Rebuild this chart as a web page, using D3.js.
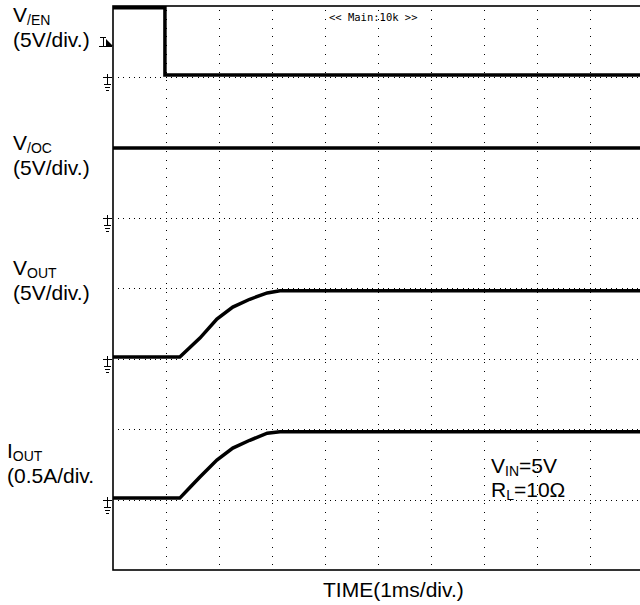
<!DOCTYPE html>
<meta charset="utf-8">
<style>
body{margin:0;background:#fff;}
svg text{font-family:"Liberation Sans", Arial, sans-serif; fill:#000;}
.grid line{stroke:#000; stroke-width:1; shape-rendering:crispEdges;}
.trace{fill:none; stroke:#000; stroke-width:3.5; stroke-linejoin:miter;}
</style>
<svg id="scope" width="640" height="605"></svg>
<script src="https://d3js.org/d3.v7.min.js"></script>
<script>
// time axis: 10 divisions, 1 ms/div
const gridTimes = [1,2,3,4,5,6,7,8,9]
const gridDivs = [1,2,3,4,5,6,7]

// /EN (V)
const enTime = [0, 0.98, 0.98, 10]
const enVolt = [4.88, 4.88, 0.1, 0.1]
// /OC (V)
const ocTime = [0, 10]
const ocVolt = [4.93, 4.93]
// VOUT (V) and IOUT (A), same time base
const rampTime = [0, 1.26, 1.45, 1.64, 1.96, 2.26, 2.58, 2.91, 3.15, 10]
const outVolt = [0.1, 0.1, 0.78, 1.45, 2.8, 3.65, 4.2, 4.65, 4.8, 4.8]
const outAmp = [0.01, 0.01, 0.085, 0.16, 0.28, 0.365, 0.42, 0.47, 0.48, 0.48]

// ground position (in divisions from bottom) and units per division
const channels = [
  {time: enTime, vals: enVolt, gnd: 7, perDiv: 5},
  {time: ocTime, vals: ocVolt, gnd: 5, perDiv: 5},
  {time: rampTime, vals: outVolt, gnd: 3, perDiv: 5},
  {time: rampTime, vals: outAmp, gnd: 1, perDiv: 0.5}
]

let svg = d3.select('#scope')
let x = d3.scaleLinear().domain([0,10]).range([113,643])
let yDiv = d3.scaleLinear().domain([0,8]).range([570,6])

// dotted graticule
let grid = svg.append('g').attr('class','grid')
grid.selectAll('line.v').data(gridTimes).enter().append('line')
  .attr('x1', d => x(d)+0.5).attr('x2', d => x(d)+0.5)
  .attr('y1', yDiv(8)+4).attr('y2', yDiv(0))
  .attr('stroke-dasharray', '1,7.8')
grid.selectAll('line.h').data(gridDivs).enter().append('line')
  .attr('y1', d => Math.round(yDiv(d))+0.5).attr('y2', d => Math.round(yDiv(d))+0.5)
  .attr('x1', x(0)+5).attr('x2', x(10))
  .attr('stroke-dasharray', '1,4.3')

// traces
channels.forEach(ch => {
  let pts = ch.time.map((t,i) => [t, ch.vals[i]])
  let line = d3.line()
    .x(d => x(d[0]))
    .y(d => yDiv(ch.gnd + d[1]/ch.perDiv))
  svg.append('path').attr('class','trace').attr('d', line(pts))
})

// frame
svg.append('rect')
  .attr('x', x(0)).attr('y', yDiv(8))
  .attr('width', x(10)-x(0)).attr('height', yDiv(0)-yDiv(8))
  .attr('fill','none').attr('stroke','#000').attr('stroke-width',1.6)

// ground markers
channels.forEach(ch => {
  let gy = Math.round(yDiv(ch.gnd))
  let g = svg.append('g').attr('stroke','#000').attr('stroke-width',1).attr('shape-rendering','crispEdges')
  g.append('line').attr('x1',103).attr('x2',112).attr('y1',gy+0.5).attr('y2',gy+0.5)
  g.append('line').attr('x1',107.5).attr('x2',107.5).attr('y1',gy-3).attr('y2',gy+7)
  g.append('line').attr('x1',104).attr('x2',111).attr('y1',gy+7.5).attr('y2',gy+7.5)
  g.append('line').attr('x1',105).attr('x2',110).attr('y1',gy+10.5).attr('y2',gy+10.5)
  g.append('line').attr('x1',106).attr('x2',109).attr('y1',gy+13.5).attr('y2',gy+13.5)
})

// trigger marker
let trig = svg.append('g').attr('stroke','#000').attr('stroke-width',1).attr('shape-rendering','crispEdges')
trig.append('line').attr('x1',100).attr('x2',106).attr('y1',37.5).attr('y2',37.5)
trig.append('line').attr('x1',103.5).attr('x2',103.5).attr('y1',37).attr('y2',46)
trig.append('line').attr('x1',99).attr('x2',112).attr('y1',46.5).attr('y2',46.5)
svg.append('path').attr('d','M106,39 L113,46 L106,46 Z').attr('fill','#000')

// channel labels
let labels = [
  {main:'V', sub:'/EN', unit:'(5V/div.)', x:13, y:22},
  {main:'V', sub:'/OC', unit:'(5V/div.)', x:13, y:150},
  {main:'V', sub:'OUT', unit:'(5V/div.)', x:13, y:275},
  {main:'I', sub:'OUT', unit:'(0.5A/div.', x:7, y:458}
]
labels.forEach(l => {
  let t = svg.append('text').attr('x', l.x).attr('y', l.y).style('font-size','21px')
  t.append('tspan').text(l.main)
  t.append('tspan').text(l.sub).attr('dy',3).style('font-size','14px')
  svg.append('text').attr('x', l.x).attr('y', l.y+25).style('font-size','21px').text(l.unit)
})

// conditions
let c1 = svg.append('text').attr('x',491).attr('y',473).style('font-size','21px')
c1.append('tspan').text('V')
c1.append('tspan').text('IN').attr('dy',3).style('font-size','14px')
c1.append('tspan').text('=5V').attr('dy',-3)
let c2 = svg.append('text').attr('x',491).attr('y',497).style('font-size','21px')
c2.append('tspan').text('R')
c2.append('tspan').text('L').attr('dy',3).style('font-size','14px')
c2.append('tspan').text('=10Ω').attr('dy',-3)

svg.append('text').attr('x',323).attr('y',597).style('font-size','21px').text('TIME(1ms/div.)')

svg.append('text').attr('x',329).attr('y',21)
  .style('font-family','"DejaVu Sans Mono", monospace').style('font-size','10.5px')
  .text('<< Main:10k >>')
</script>
